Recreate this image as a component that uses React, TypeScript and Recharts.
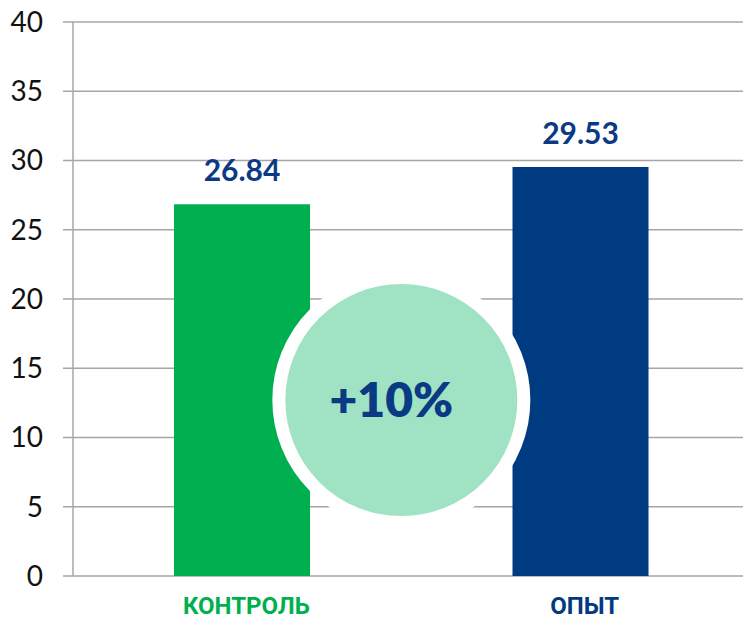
import React from 'react';
import {
  BarChart,
  Bar,
  Cell,
  XAxis,
  YAxis,
  CartesianGrid,
  LabelList,
  ReferenceDot,
} from 'recharts';

// Categories and values
const categories = ['КОНТРОЛЬ', 'ОПЫТ'];
const values = [26.84, 29.53];
const barColors = ['#00b050', '#003a80'];
const yTicks = [0, 5, 10, 15, 20, 25, 30, 35, 40];

// Helper positions of the categories on a 0..2 numeric axis,
// used to place the difference bubble between the bars
const categoryPos = [0.5, 1.5];
const bubbleText = '+10%';
const bubbleX = 0.97;
const bubbleY = 12.7;

const data = categories.map((name, i) => ({ name, value: values[i], pos: categoryPos[i] }));

const FONT = 'Lato, "Noto Sans", sans-serif';
const LABEL_BLUE = '#0b3a84';

function CategoryTick({ x, y, payload, index }: any) {
  return (
    <text
      x={x + 4}
      y={y}
      dy={30}
      textAnchor="middle"
      fill={barColors[index]}
      fontFamily='Roboto, "Noto Sans", sans-serif'
      fontWeight={700}
      fontSize={24}
    >
      {payload.value}
    </text>
  );
}

// Text in the bubble, a little left of its centre as in the reference
function BubbleLabel({ viewBox }: any) {
  const cx = viewBox.x + viewBox.width / 2;
  const cy = viewBox.y + viewBox.height / 2;
  return (
    <text
      x={cx - 10}
      y={cy}
      dy={17}
      textAnchor="middle"
      fill={LABEL_BLUE}
      fontSize={48}
      fontWeight={800}
      fontFamily={FONT}
    >
      {bubbleText}
    </text>
  );
}

export default function App() {
  return (
    <div
      style={{
        position: 'absolute',
        left: 0,
        top: 0,
        width: 743,
        height: 621,
        overflow: 'hidden',
        background: '#fff',
      }}
    >
      <BarChart
        width={750}
        height={621}
        data={data}
        margin={{ top: 22, right: 0, bottom: 0, left: 0 }}
      >
        <CartesianGrid vertical={false} stroke="#a6a6a6" strokeWidth={1.5} />
        <XAxis
          xAxisId="cat"
          dataKey="name"
          axisLine={false}
          tickLine={false}
          height={45}
          tick={<CategoryTick />}
        />
        <XAxis
          xAxisId="num"
          dataKey="pos"
          type="number"
          domain={[0, 2]}
          allowDataOverflow
          hide
        />
        <YAxis
          width={73}
          domain={[0, 40]}
          ticks={yTicks}
          interval={0}
          tickSize={10}
          tickMargin={20}
          stroke="#a6a6a6"
          strokeWidth={1.5}
          tick={{ fill: '#111', fontSize: 28, fontFamily: FONT }}
        />
        <Bar xAxisId="cat" dataKey="value" barSize={136} isAnimationActive={false}>
          {data.map((d, i) => (
            <Cell key={d.name} fill={barColors[i]} />
          ))}
          <LabelList
            dataKey="value"
            position="top"
            offset={23}
            fill={LABEL_BLUE}
            fontSize={30}
            fontWeight={700}
            fontFamily={FONT}
            formatter={(v: any) => Number(v).toFixed(2)}
          />
        </Bar>
        <ReferenceDot
          xAxisId="num"
          x={bubbleX}
          y={bubbleY}
          r={122.5}
          fill="#a0e2c4"
          stroke="#ffffff"
          strokeWidth={13}
          ifOverflow="visible"
          label={<BubbleLabel />}
        />
      </BarChart>
    </div>
  );
}
